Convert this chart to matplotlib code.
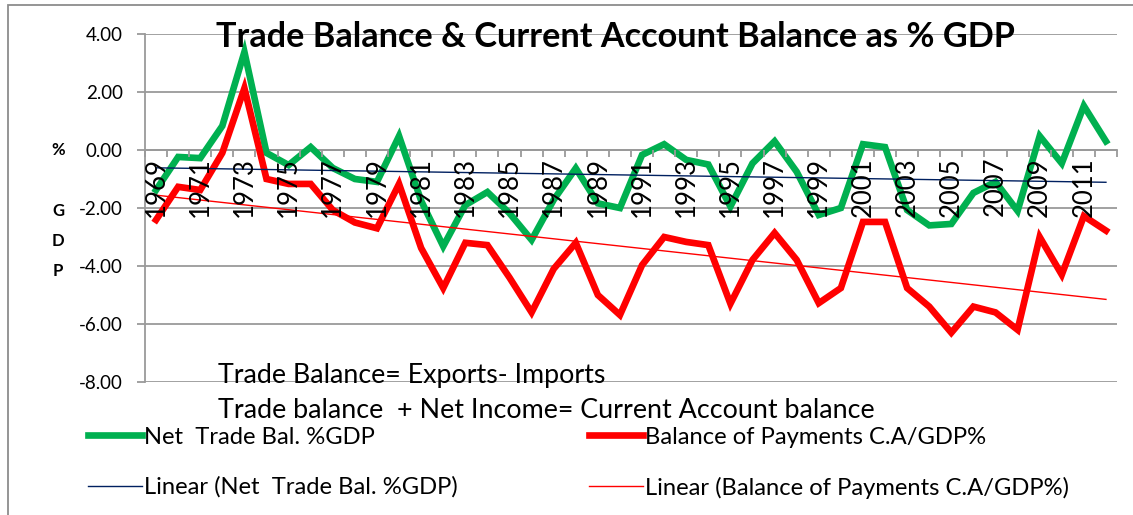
import numpy as np
import matplotlib
matplotlib.use("Agg")
import matplotlib.pyplot as plt
from matplotlib.patches import Rectangle
from matplotlib.ticker import FixedLocator, FormatStrFormatter

plt.rcParams.update({"font.family": ["Lato", "DejaVu Sans"]})

# ── data ──────────────────────────────────────────────────────────────────────
years = np.arange(1969, 2013)
net_trade = [-1.38, -0.24, -0.28, 0.83, 3.38, -0.10, -0.52, 0.10, -0.62, -1.00,
             -1.10, 0.48, -1.75, -3.32, -1.90, -1.45, -2.18, -3.10, -1.72, -0.63,
             -1.84, -2.00, -0.17, 0.20, -0.34, -0.50, -1.95, -0.46, 0.30, -0.75,
             -2.24, -2.00, 0.20, 0.10, -2.07, -2.60, -2.55, -1.48, -1.10, -2.10,
             0.48, -0.46, 1.52, 0.30]
cur_acc = [-2.41, -1.27, -1.38, -0.10, 2.13, -1.00, -1.17, -1.17, -2.07, -2.50,
           -2.70, -1.17, -3.38, -4.76, -3.20, -3.28, -4.40, -5.60, -4.10, -3.20,
           -5.00, -5.69, -3.97, -3.00, -3.17, -3.28, -5.30, -3.79, -2.86, -3.79,
           -5.28, -4.76, -2.48, -2.48, -4.76, -5.40, -6.30, -5.40, -5.60, -6.20,
           -3.00, -4.30, -2.28, -2.78]
y_ticks = [4, 2, 0, -2, -4, -6, -8]

lab_green = "Net  Trade Bal. %GDP"
lab_red = "Balance of Payments C.A/GDP%"
lab_green_lin = "Linear (Net  Trade Bal. %GDP)"
lab_red_lin = "Linear (Balance of Payments C.A/GDP%)"

W, H = 1133, 515
fig = plt.figure(figsize=(W / 100, H / 100), dpi=100)
ax = fig.add_axes([145 / W, 1 - 382 / H, (1117 - 145) / W, (382 - 34) / H])

x = np.arange(len(years))
GREEN, RED, NAVY = "#00B050", "#FF0000", "#002060"

ax.plot(x, net_trade, color=GREEN, lw=4.8, solid_joinstyle="miter", zorder=3,
        label=lab_green)
ax.plot(x, cur_acc, color=RED, lw=4.8, solid_joinstyle="miter", zorder=3,
        label=lab_red)

# linear trend lines (least squares, like Excel's "Linear" trendline)
for series, col, lab in [(net_trade, NAVY, lab_green_lin), (cur_acc, RED, lab_red_lin)]:
    k, b = np.polyfit(x, series, 1)
    ax.plot(x, k * x + b, color=col, lw=1.0, zorder=4, label=lab)

ax.set_xlim(-0.5, len(years) - 0.5)
ax.set_ylim(-8, 4)

# axes styling (Excel look)
GRID = "#9a9a9a"
for s in ("top", "right"):
    ax.spines[s].set_visible(False)
ax.spines["left"].set_color(GRID)
ax.spines["left"].set_linewidth(1.3)
ax.spines["bottom"].set_position(("data", 0))
ax.spines["bottom"].set_color(GRID)
ax.spines["bottom"].set_linewidth(1.3)
ax.set_yticks(y_ticks)
ax.yaxis.set_major_formatter(FormatStrFormatter("%.2f"))
ax.yaxis.grid(True, color=GRID, lw=1.3)
ax.set_axisbelow(True)
ax.tick_params(axis="y", direction="out", length=6, width=1.3, color=GRID,
               pad=10, labelsize=13.5, labelcolor="black")

ax.set_xticks(x[::2])
ax.set_xticklabels([str(v) for v in years[::2]], rotation=90, va="top")
ax.xaxis.set_minor_locator(FixedLocator(np.arange(-0.5, len(years), 1.0)))
ax.tick_params(axis="x", which="major", length=0, pad=5, labelsize=18.5)
ax.tick_params(axis="x", which="minor", direction="out", length=5, width=1.3,
               color=GRID)
ax.xaxis.set_zorder(6)   # year labels sit on top of the lines, as in Excel

# outer chart border
fig.patches.append(Rectangle((8 / W, -0.05), 1.2, 1 - 5 / H + 0.05,
                             transform=fig.transFigure, fill=False,
                             edgecolor="#8c8c8c", lw=1.3, zorder=0))

fig.canvas.draw()
renderer = fig.canvas.get_renderer()


def fit(t, target):
    w = t.get_window_extent(renderer).width
    t.set_fontsize(t.get_fontsize() * target / w)


title = fig.text(615 / W, 1 - 37 / H,
                 "Trade Balance & Current Account Balance as % GDP",
                 ha="center", va="center", fontsize=22, fontweight="bold")
fit(title, 795)

for ch, yy in [("%", 150), ("G", 211), ("D", 241), ("P", 271)]:
    fig.text(58 / W, 1 - yy / H, ch, ha="center", va="center",
             fontsize=12, fontweight="bold")

t1 = fig.text(218 / W, 1 - 375 / H, "Trade Balance= Exports- Imports",
              ha="left", va="center", fontsize=16)
fit(t1, 388)
t2 = fig.text(218 / W, 1 - 410 / H,
              "Trade balance  + Net Income= Current Account balance",
              ha="left", va="center", fontsize=16)
fit(t2, 658)

# legend: measure font size so the label widths match
probe = fig.text(0, 0, lab_green, fontsize=15)
fit(probe, 232)
fs = probe.get_fontsize()
probe_w = probe.get_window_extent(renderer)
probe.set_text(lab_green_lin)
w_col1 = probe.get_window_extent(renderer).width
text_h = probe_w.height
probe.remove()
fs_px = fs * 100 / 72

handles, labels = ax.get_legend_handles_labels()
order = [0, 2, 1, 3]
leg = fig.legend([handles[i] for i in order], [labels[i] for i in order],
                 ncol=2, loc="upper left", frameon=False, fontsize=fs,
                 bbox_to_anchor=(88 / W, 1 - (437 - text_h / 2) / H),
                 borderpad=0, borderaxespad=0,
                 handlelength=54 / fs_px, handletextpad=2 / fs_px,
                 columnspacing=(590 - 145 - w_col1) / fs_px,
                 labelspacing=(50 - text_h) / fs_px)

fig.savefig("out.png", dpi=100)
